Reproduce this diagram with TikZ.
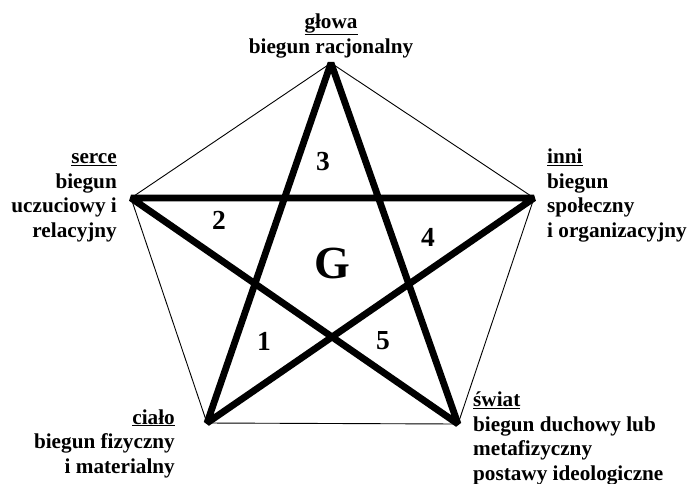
\documentclass[tikz,border=0pt]{standalone}
\usepackage{fontspec}
\setmainfont{Liberation Serif}
\begin{document}
\begin{tikzpicture}[x=1pt,y=-1pt,
  thinline/.style={line width=0.9pt,black},
  starline/.style={line width=6.8pt,black,line join=bevel},
  lbl/.style={font=\fontsize{21.2}{24.5}\selectfont\bfseries,inner sep=0pt},
  num/.style={font=\fontsize{27.5}{30}\selectfont\bfseries,inner sep=0pt},
  bign/.style={font=\fontsize{46}{50}\selectfont\bfseries,inner sep=0pt}]
\useasboundingbox (0,0) rectangle (688,483);
\coordinate (A) at (331,63);
\coordinate (B) at (131,198);
\coordinate (C) at (534,198);
\coordinate (D) at (207,423);
\coordinate (E) at (458,424);
% pentagon
\draw[thinline] (A) -- (C) -- (E) -- (D) -- (B) -- cycle;
% star
\draw[starline] (A) -- (D) -- (C) -- (B) -- (E) -- cycle;
% labels (base anchor = baseline of last line)
\node[lbl,anchor=base,align=center] (lA) at (331,53) {\underline{głowa}\\biegun racjonalny};
\node[lbl,anchor=base east,align=right] (lB) at (117,237) {\underline{serce}\\biegun\\uczuciowy i\\relacyjny};
\node[lbl,anchor=base west,align=left] (lC) at (547,237) {\underline{inni}\\biegun\\społeczny\\i organizacyjny};
\node[lbl,anchor=base east,align=right] (lD) at (175,473) {\underline{ciało}\\biegun fizyczny\\i materialny};
\node[lbl,anchor=base west,align=left] (lE) at (473,480) {\underline{świat}\\biegun duchowy lub\\metafizyczny\\postawy ideologiczne};
% numbers
\node[num] (n3) at (323,162) {3};
\node[num] (n2) at (219,220) {2};
\node[num] (n4) at (428,237) {4};
\node[num] (n1) at (264,341) {1};
\node[num] (n5) at (383,341) {5};
\node[bign] (g) at (332,263) {G};
\end{tikzpicture}
\end{document}
